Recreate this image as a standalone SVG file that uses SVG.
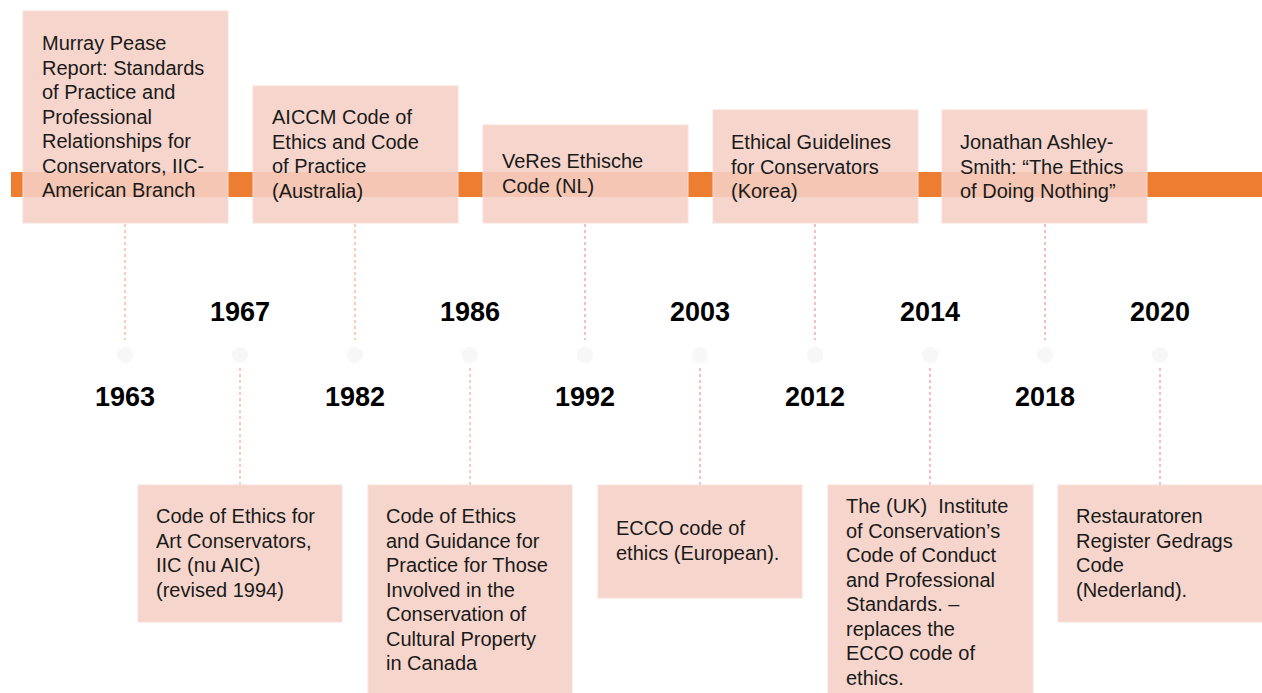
<svg xmlns="http://www.w3.org/2000/svg" width="1262" height="693" viewBox="0 0 1262 693">
<style>
.box{fill:#F5D0C5;fill-opacity:0.88;stroke:#F9DED6;stroke-width:1}
.t{font-family:"Liberation Sans",Arial,sans-serif;font-size:20px;fill:#1a1a1a}
.yr{font-family:"Liberation Sans",Arial,sans-serif;font-size:27px;font-weight:bold;fill:#000;text-anchor:middle}
.dot{fill:#F7F7F7}
.c1{stroke:#F4AB86;stroke-width:1.2;stroke-dasharray:3 3;fill:none}
.c2{stroke:#F39299;stroke-width:1.2;stroke-dasharray:3 3;fill:none}
</style>
<rect width="1262" height="693" fill="#fff"/>
<rect id="timeline-bar" x="11" y="172" width="1251" height="25" fill="#ED7D31"/>
<g id="connectors">
<line class="c1" x1="125" y1="224" x2="125" y2="340"/>
<line class="c1" x1="355" y1="224" x2="355" y2="340"/>
<line class="c2" x1="585" y1="224" x2="585" y2="340"/>
<line class="c2" x1="815" y1="224" x2="815" y2="340"/>
<line class="c2" x1="1045" y1="224" x2="1045" y2="340"/>
<line class="c1" x1="240" y1="368" x2="240" y2="485"/>
<line class="c1" x1="470" y1="368" x2="470" y2="485"/>
<line class="c2" x1="700" y1="368" x2="700" y2="485"/>
<line class="c2" x1="930" y1="368" x2="930" y2="485"/>
<line class="c2" x1="1160" y1="368" x2="1160" y2="485"/>
</g>
<g id="dots">
<circle class="dot" cx="125" cy="355" r="8"/>
<circle class="dot" cx="240" cy="355" r="8"/>
<circle class="dot" cx="355" cy="355" r="8"/>
<circle class="dot" cx="470" cy="355" r="8"/>
<circle class="dot" cx="585" cy="355" r="8"/>
<circle class="dot" cx="700" cy="355" r="8"/>
<circle class="dot" cx="815" cy="355" r="8"/>
<circle class="dot" cx="930" cy="355" r="8"/>
<circle class="dot" cx="1045" cy="355" r="8"/>
<circle class="dot" cx="1160" cy="355" r="8"/>
</g>
<g id="years">
<text class="yr" x="125" y="406">1963</text>
<text class="yr" x="240" y="321">1967</text>
<text class="yr" x="355" y="406">1982</text>
<text class="yr" x="470" y="321">1986</text>
<text class="yr" x="585" y="406">1992</text>
<text class="yr" x="700" y="321">2003</text>
<text class="yr" x="815" y="406">2012</text>
<text class="yr" x="930" y="321">2014</text>
<text class="yr" x="1045" y="406">2018</text>
<text class="yr" x="1160" y="321">2020</text>
</g>
<g id="node-1963">
<rect class="box" x="23" y="11" width="205" height="212"/>
<text class="t"><tspan x="42" y="50">Murray Pease</tspan><tspan x="42" y="74.5">Report: Standards</tspan><tspan x="42" y="99">of Practice and</tspan><tspan x="42" y="123.5">Professional</tspan><tspan x="42" y="148">Relationships for</tspan><tspan x="42" y="172.5">Conservators, IIC-</tspan><tspan x="42" y="197">American Branch</tspan></text>
</g>
<g id="node-1982">
<rect class="box" x="253" y="86" width="205" height="137"/>
<text class="t"><tspan x="272" y="124">AICCM Code of</tspan><tspan x="272" y="148.5">Ethics and Code</tspan><tspan x="272" y="173">of Practice</tspan><tspan x="272" y="197.5">(Australia)</tspan></text>
</g>
<g id="node-1992">
<rect class="box" x="483" y="125" width="205" height="98"/>
<text class="t"><tspan x="502" y="168">VeRes Ethische</tspan><tspan x="502" y="192.5">Code (NL)</tspan></text>
</g>
<g id="node-2012">
<rect class="box" x="713" y="110" width="205" height="113"/>
<text class="t"><tspan x="731" y="149">Ethical Guidelines</tspan><tspan x="731" y="173.5">for Conservators</tspan><tspan x="731" y="198">(Korea)</tspan></text>
</g>
<g id="node-2018">
<rect class="box" x="942" y="110" width="205" height="113"/>
<text class="t"><tspan x="960" y="149">Jonathan Ashley-</tspan><tspan x="960" y="173.5">Smith: “The Ethics</tspan><tspan x="960" y="198">of Doing Nothing”</tspan></text>
</g>
<g id="node-1967">
<rect class="box" x="138" y="485" width="204" height="137"/>
<text class="t"><tspan x="156" y="523">Code of Ethics for</tspan><tspan x="156" y="547.5">Art Conservators,</tspan><tspan x="156" y="572">IIC (nu AIC)</tspan><tspan x="156" y="596.5">(revised 1994)</tspan></text>
</g>
<g id="node-1986">
<rect class="box" x="368" y="485" width="204" height="210"/>
<text class="t"><tspan x="386" y="523">Code of Ethics</tspan><tspan x="386" y="547.5">and Guidance for</tspan><tspan x="386" y="572">Practice for Those</tspan><tspan x="386" y="596.5">Involved in the</tspan><tspan x="386" y="621">Conservation of</tspan><tspan x="386" y="645.5">Cultural Property</tspan><tspan x="386" y="670">in Canada</tspan></text>
</g>
<g id="node-2003">
<rect class="box" x="598" y="485" width="204" height="113"/>
<text class="t"><tspan x="616" y="535">ECCO code of</tspan><tspan x="616" y="559.5">ethics (European).</tspan></text>
</g>
<g id="node-2014">
<rect class="box" x="828" y="485" width="205" height="210"/>
<text class="t"><tspan x="846" y="513" xml:space="preserve">The (UK)  Institute</tspan><tspan x="846" y="537.5">of Conservation’s</tspan><tspan x="846" y="562">Code of Conduct</tspan><tspan x="846" y="586.5">and Professional</tspan><tspan x="846" y="611">Standards. –</tspan><tspan x="846" y="635.5">replaces the</tspan><tspan x="846" y="660">ECCO code of</tspan><tspan x="846" y="684.5">ethics.</tspan></text>
</g>
<g id="node-2020">
<rect class="box" x="1058" y="485" width="205" height="137"/>
<text class="t"><tspan x="1076" y="523">Restauratoren</tspan><tspan x="1076" y="547.5">Register Gedrags</tspan><tspan x="1076" y="572">Code</tspan><tspan x="1076" y="596.5">(Nederland).</tspan></text>
</g>
</svg>
